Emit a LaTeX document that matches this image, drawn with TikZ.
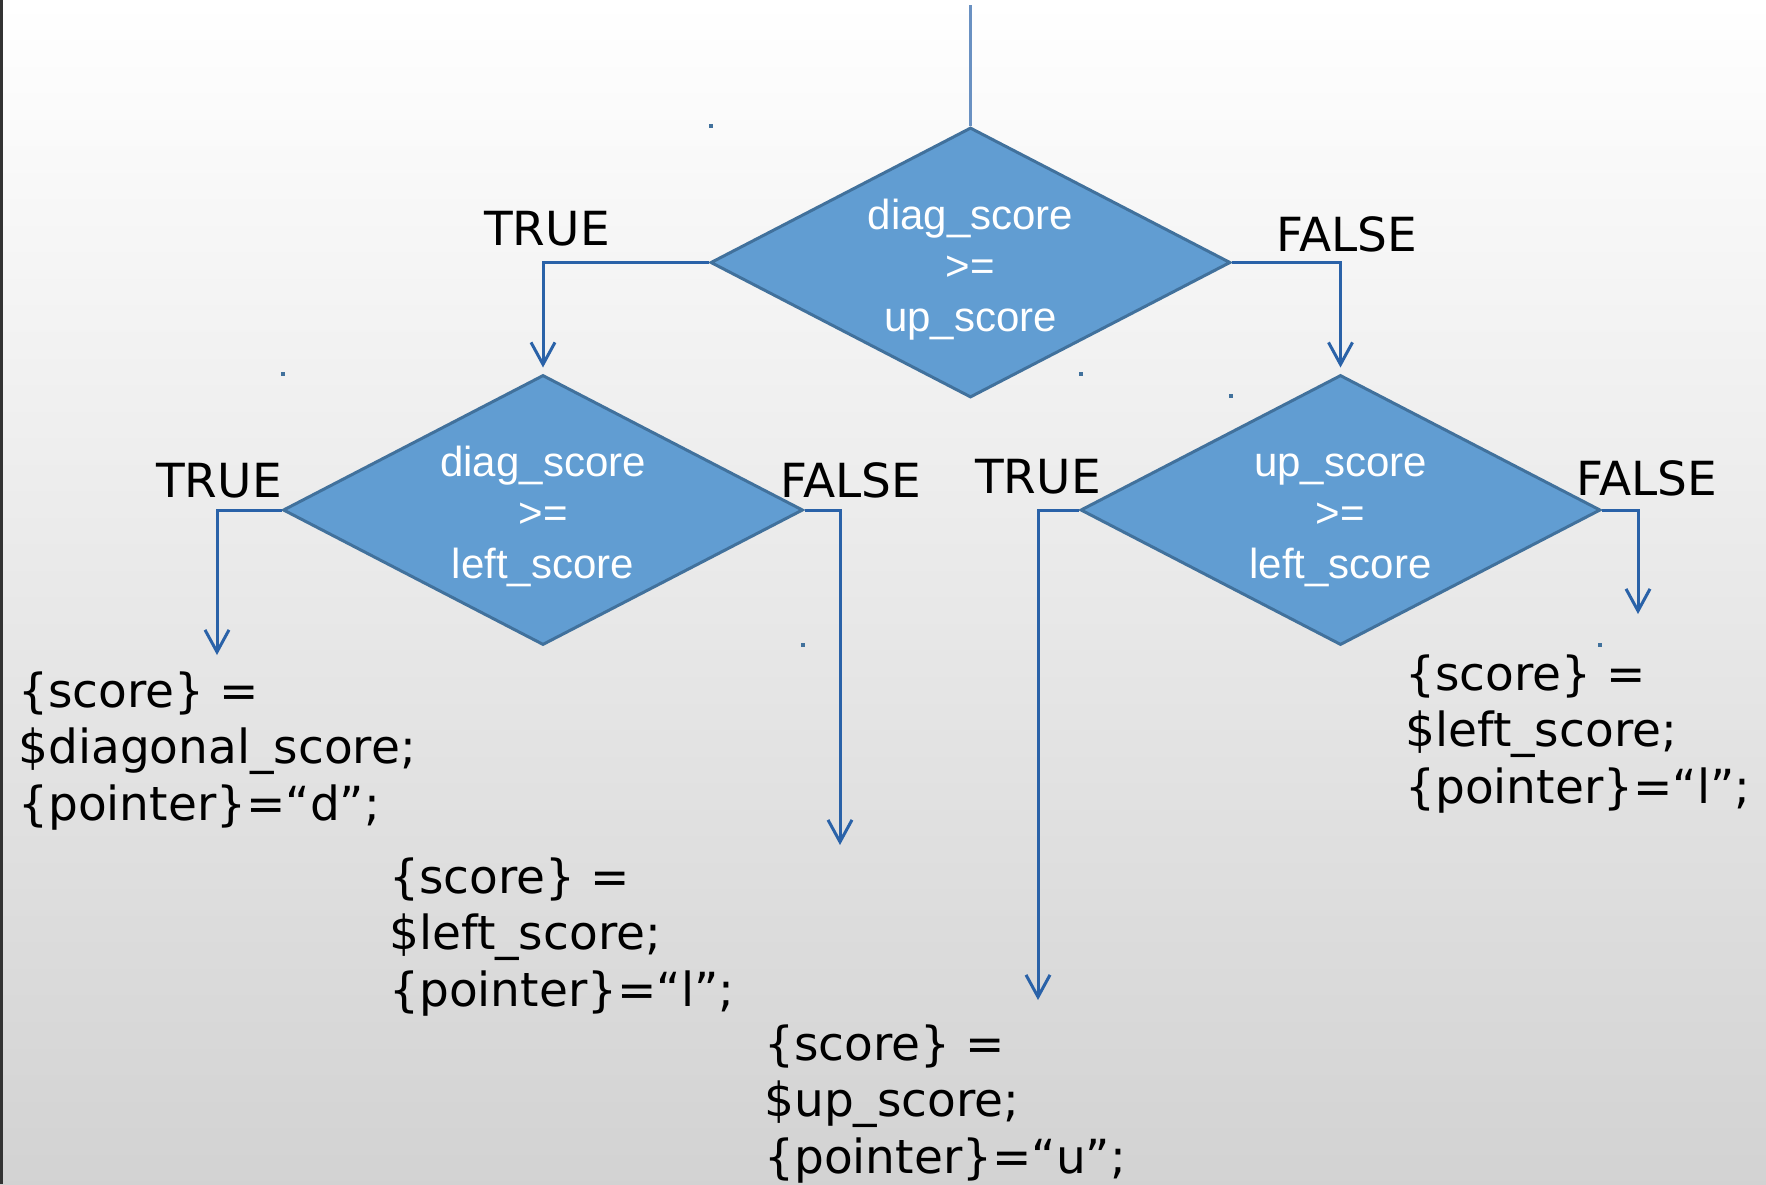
\documentclass[tikz,border=0pt]{standalone}
\usepackage{fontspec}
\setmainfont{DejaVu Sans}
\newfontfamily\arialfont{Liberation Sans}
\usetikzlibrary{shapes.geometric,arrows.meta}
\definecolor{boxfill}{RGB}{97,157,210}
\definecolor{boxline}{RGB}{65,113,156}
\definecolor{flowline}{RGB}{42,98,168}
\newcommand{\firstline}{\rule{0pt}{22pt}}
\tikzset{
  decision/.style={diamond, draw=boxline, line width=1.5pt, fill=boxfill, text=white,
    inner sep=0pt, aspect=2, minimum width=260pt, minimum height=135pt, align=center,
    font=\arialfont\fontsize{21}{25.5}\selectfont},
  flow/.style={draw=flowline, line width=1.5pt, -{Straight Barb[length=11pt,width=12pt]}},
  answer/.style={anchor=base, inner sep=0pt, font=\fontsize{23.5}{28}\selectfont},
  result/.style={anchor=base west, align=left, inner sep=0pt, font=\fontsize{23.5}{28.25}\selectfont},
}
\begin{document}
\begin{tikzpicture}[x=0.5pt,y=-0.5pt]
  \useasboundingbox (0,0) rectangle (1766,1184);
  % background
  \shade[top color=white, bottom color=gray!35] (0,0) rectangle (1766,1184);
  \draw[black!80, line width=1.2pt] (1.5,0) -- (1.5,1184);
  \foreach \mx/\my in {711/126, 283/374, 1081/374, 1231/396, 803/645, 1600/645}
    \fill[boxline] (\mx-2,\my-2) rectangle (\mx+2,\my+2);
  % decisions
  \node[decision] (diagup) at (970.5,262.5) {\firstline diag\_score\\>=\\up\_score};
  \node[decision] (diagleft) at (543,510) {\firstline diag\_score\\>=\\left\_score};
  \node[decision] (upleft) at (1340.5,510) {\firstline up\_score\\>=\\left\_score};
  % branch labels
  \node[answer] (true1) at (547,245) {TRUE};
  \node[answer] (false1) at (1347,251) {FALSE};
  \node[answer] (true2) at (219,497) {TRUE};
  \node[answer] (false2) at (851,497) {FALSE};
  \node[answer] (true3) at (1038,493) {TRUE};
  \node[answer] (false3) at (1647,495) {FALSE};
  % results
  \node[result] (rdiag) at (18,820) {\{score\} =\\\$diagonal\_score;\\\{pointer\}=“d”;};
  \node[result] (rleft) at (389,1006) {\{score\} =\\\$left\_score;\\\{pointer\}=“l”;};
  \node[result] (rup) at (764,1173) {\{score\} =\\\$up\_score;\\\{pointer\}=“u”;};
  \node[result] (rleft2) at (1405,803) {\{score\} =\\\$left\_score;\\\{pointer\}=“l”;};
  % flow
  \coordinate (start) at (970.5,5);
  \coordinate (endll) at (217,655);
  \coordinate (endlr) at (840,845);
  \coordinate (endrl) at (1038,1000);
  \coordinate (endrr) at (1638,614);
  \draw[flowline!70, line width=1.2pt] (start) -- (diagup.north);
  \draw[flow, shorten >=3pt] (diagup.west) -| (diagleft.north);
  \draw[flow, shorten >=3pt] (diagup.east) -| (upleft.north);
  \draw[flow] (diagleft.west) -| (endll);
  \draw[flow] (diagleft.east) -| (endlr);
  \draw[flow] (upleft.west) -| (endrl);
  \draw[flow] (upleft.east) -| (endrr);
\end{tikzpicture}
\end{document}
